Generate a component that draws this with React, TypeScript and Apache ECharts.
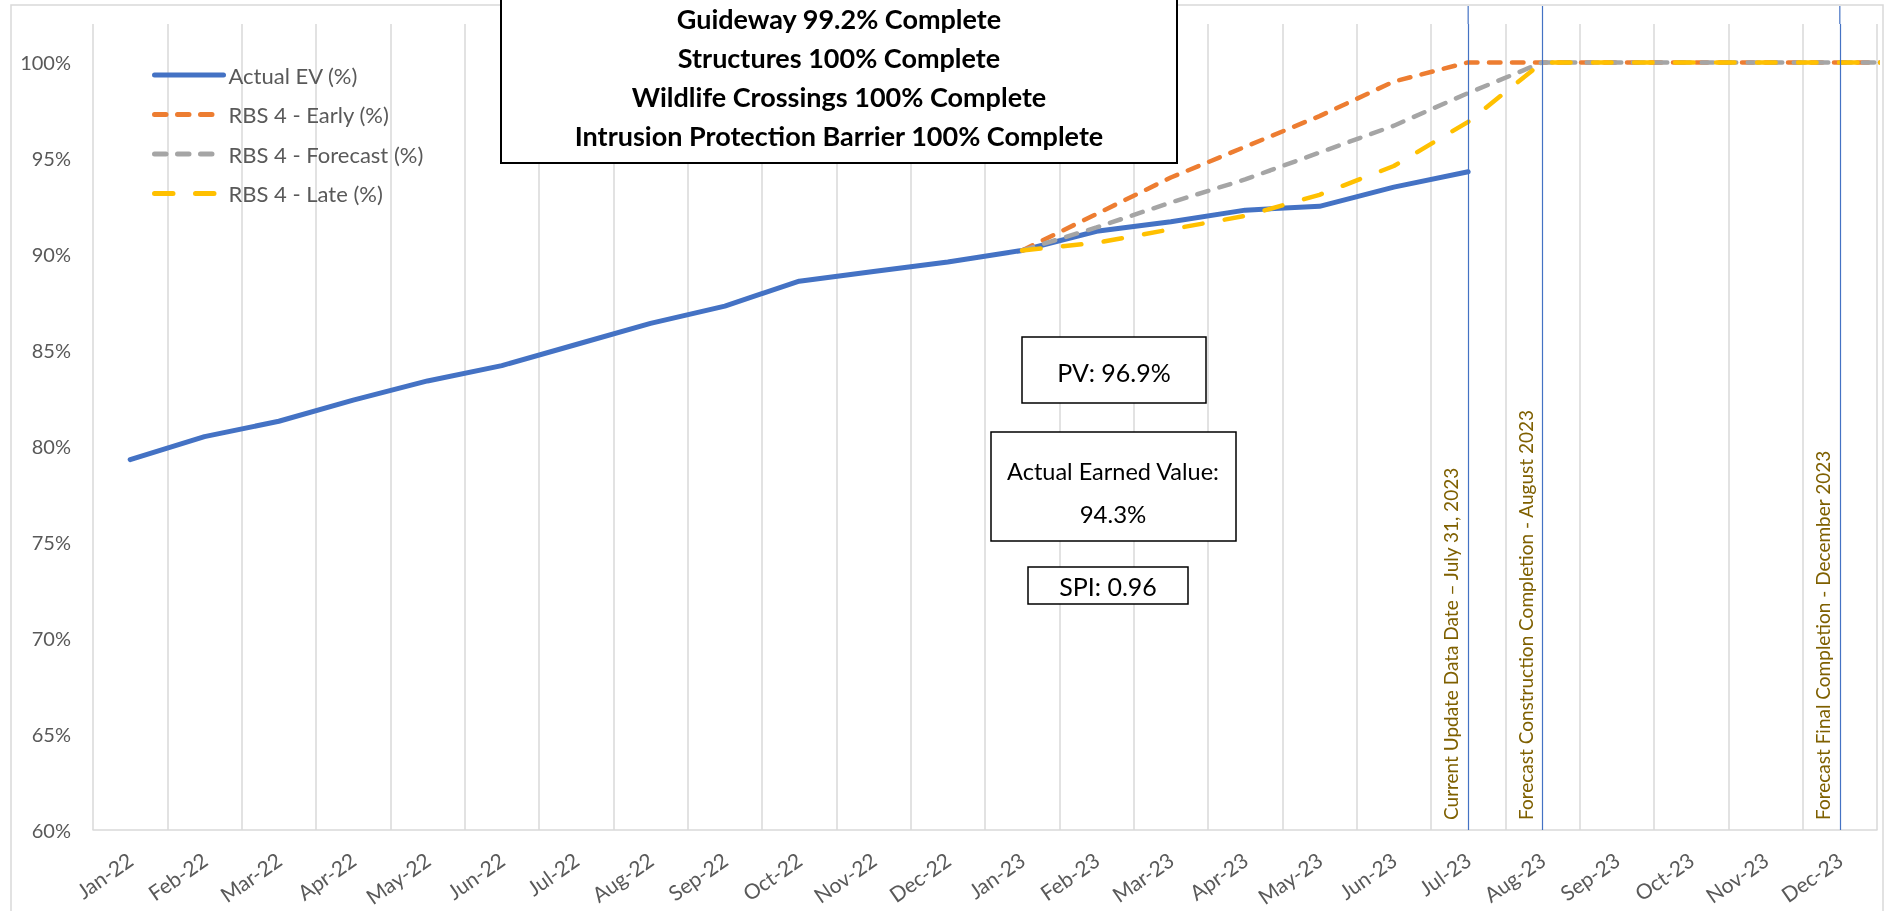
import React, { useEffect, useRef } from 'react';
import * as echarts from 'echarts';

const months = [
  'Jan-22', 'Feb-22', 'Mar-22', 'Apr-22', 'May-22', 'Jun-22', 'Jul-22', 'Aug-22', 'Sep-22', 'Oct-22', 'Nov-22', 'Dec-22',
  'Jan-23', 'Feb-23', 'Mar-23', 'Apr-23', 'May-23', 'Jun-23', 'Jul-23', 'Aug-23', 'Sep-23', 'Oct-23', 'Nov-23', 'Dec-23',
  'Jan-24',
];

const actualEV = [79.3, 80.5, 81.3, 82.4, 83.4, 84.2, 85.3, 86.4, 87.3, 88.6, 89.1, 89.6, 90.2, 91.2, 91.7, 92.3, 92.5, 93.5, 94.3];
const early = [null, null, null, null, null, null, null, null, null, null, null, null, 90.2, 92.1, 94.0, 95.6, 97.2, 99.0, 100, 100, 100, 100, 100, 100, 100];
const forecast = [null, null, null, null, null, null, null, null, null, null, null, null, 90.2, 91.4, 92.7, 93.9, 95.3, 96.7, 98.4, 100, 100, 100, 100, 100, 100];
const late = [null, null, null, null, null, null, null, null, null, null, null, null, 90.2, 90.6, 91.3, 92.0, 93.1, 94.6, 96.9, 100, 100, 100, 100, 100, 100];

const markers = [
  { month: 'Jul-23', text: 'Current Update Data Date \u2013 July 31, 2023' },
  { month: 'Aug-23', text: 'Forecast Construction Completion - August 2023' },
  { month: 'Dec-23', text: 'Forecast Final Completion - December 2023' },
];

const statusLines = [
  'Guideway 99.2% Complete',
  'Structures 100% Complete',
  'Wildlife Crossings 100% Complete',
  'Intrusion Protection Barrier 100% Complete',
];

const FONT = 'Lato';

export default function App() {
  const ref = useRef<HTMLDivElement>(null);

  useEffect(() => {
    if (!ref.current) return;
    const chart = echarts.init(ref.current, null, { renderer: 'svg' });

    const boxText = (id: string, text: string, x: number, y: number, size: number, bold = false) => ({
      id,
      type: 'text',
      z: 101,
      x,
      y,
      style: {
        text,
        fill: '#000',
        font: `${bold ? 'bold ' : ''}${size}px ${FONT}`,
        textAlign: 'center',
        textVerticalAlign: 'middle',
      },
    });

    const baseGraphic: any[] = [
      {
        id: 'outer',
        type: 'rect',
        z: -10,
        silent: true,
        shape: { x: 11, y: 5, width: 1872, height: 930 },
        style: { fill: 'none', stroke: '#d9d9d9', lineWidth: 1.5 },
      },
      {
        id: 'topbox',
        type: 'rect',
        z: 100,
        shape: { x: 501, y: -40, width: 676, height: 203 },
        style: { fill: '#fff', stroke: '#000', lineWidth: 2 },
      },
      ...statusLines.map((t, i) => boxText('st' + i, t, 839, 18 + i * 39, 27, true)),
      {
        id: 'pvbox',
        type: 'rect',
        z: 100,
        shape: { x: 1022, y: 337, width: 184, height: 66 },
        style: { fill: '#fff', stroke: '#000', lineWidth: 1.5 },
      },
      boxText('pvt', 'PV: 96.9%', 1114, 372, 25),
      {
        id: 'evbox',
        type: 'rect',
        z: 100,
        shape: { x: 991, y: 432, width: 245, height: 109 },
        style: { fill: '#fff', stroke: '#000', lineWidth: 1.5 },
      },
      boxText('evt1', 'Actual Earned Value:', 1113, 471, 23.5),
      boxText('evt2', '94.3%', 1113, 513, 24),
      {
        id: 'spibox',
        type: 'rect',
        z: 100,
        shape: { x: 1028, y: 567, width: 160, height: 37 },
        style: { fill: '#fff', stroke: '#000', lineWidth: 1.5 },
      },
      boxText('spit', 'SPI: 0.96', 1108, 586, 25),
    ];

    const option: any = {
      animation: false,
      textStyle: { fontFamily: FONT },
      grid: { left: 93, right: 12, top: 24, bottom: 81, containLabel: false },
      legend: {
        orient: 'vertical',
        left: 152,
        top: 64,
        padding: 0,
        itemWidth: 69,
        itemHeight: 14,
        itemGap: 17.5,
        itemStyle: { opacity: 0 },
        lineStyle: { width: 5 },
        textStyle: { fontSize: 22, color: '#595959', fontFamily: FONT, lineHeight: 22 },
        data: ['Actual EV (%)', 'RBS 4 - Early (%)', 'RBS 4 - Forecast (%)', 'RBS 4 - Late (%)'],
      },
      xAxis: {
        type: 'category',
        data: months,
        max: 23,
        boundaryGap: true,
        axisTick: { show: false },
        axisLine: { lineStyle: { color: '#d9d9d9', width: 1.5 } },
        splitLine: { show: true, lineStyle: { color: '#d9d9d9', width: 1.5 } },
        axisLabel: { interval: 0, rotate: 35, margin: 27, fontSize: 21, color: '#595959', fontFamily: FONT },
      },
      yAxis: {
        type: 'value',
        min: 60,
        max: 102,
        interval: 5,
        axisLine: { show: false },
        axisTick: { show: false },
        splitLine: { show: false },
        axisLabel: {
          margin: 22,
          fontSize: 20,
          color: '#595959',
          fontFamily: FONT,
          formatter: (v: number) => (v % 5 === 0 ? v + '%' : ''),
        },
      },
      series: [
        {
          name: 'Actual EV (%)',
          type: 'line',
          data: actualEV,
          symbol: 'none',
          clip: true,
          lineStyle: { color: '#4472C4', width: 5, cap: 'round', join: 'round' },
          itemStyle: { color: '#4472C4' },
          markLine: {
            silent: true,
            symbol: 'none',
            lineStyle: { color: '#4472C4', width: 1.2, type: 'solid' },
            label: {
              position: 'insideStartTop',
              color: '#7F6000',
              fontSize: 19,
              fontFamily: FONT,
              distance: [10, 8],
            },
            data: markers.map((m) => ({ xAxis: m.month, label: { formatter: m.text } })),
          },
        },
        {
          name: 'RBS 4 - Early (%)',
          type: 'line',
          data: early,
          symbol: 'none',
          clip: true,
          lineStyle: { color: '#ED7D31', width: 4.5, type: [11.5, 11.5], cap: 'round' },
          itemStyle: { color: '#ED7D31' },
        },
        {
          name: 'RBS 4 - Forecast (%)',
          type: 'line',
          data: forecast,
          symbol: 'none',
          clip: true,
          lineStyle: { color: '#A5A5A5', width: 4.5, type: [11.5, 11.5], cap: 'round' },
          itemStyle: { color: '#A5A5A5' },
        },
        {
          name: 'RBS 4 - Late (%)',
          type: 'line',
          data: late,
          symbol: 'none',
          clip: true,
          lineStyle: { color: '#FFC000', width: 4.5, type: [18.5, 22.5], cap: 'round' },
          itemStyle: { color: '#FFC000' },
        },
      ],
      graphic: baseGraphic,
    };

    chart.setOption(option);

    // extend the marker lines slightly above the plot area, positioned from the axis
    const top = chart.convertToPixel({ yAxisIndex: 0 }, 102) as number;
    const ext = markers.map((m, i) => {
      const x = chart.convertToPixel({ xAxisIndex: 0 }, m.month) as number;
      return {
        id: 'ext' + i,
        type: 'line',
        z: 5,
        silent: true,
        shape: { x1: x, y1: 6, x2: x, y2: top },
        style: { stroke: '#4472C4', lineWidth: 1.2 },
      };
    });
    chart.setOption({ graphic: [...baseGraphic, ...ext] });

    return () => chart.dispose();
  }, []);

  return <div ref={ref} style={{ position: 'fixed', left: 0, top: 0, width: 1889, height: 911 }} />;
}
